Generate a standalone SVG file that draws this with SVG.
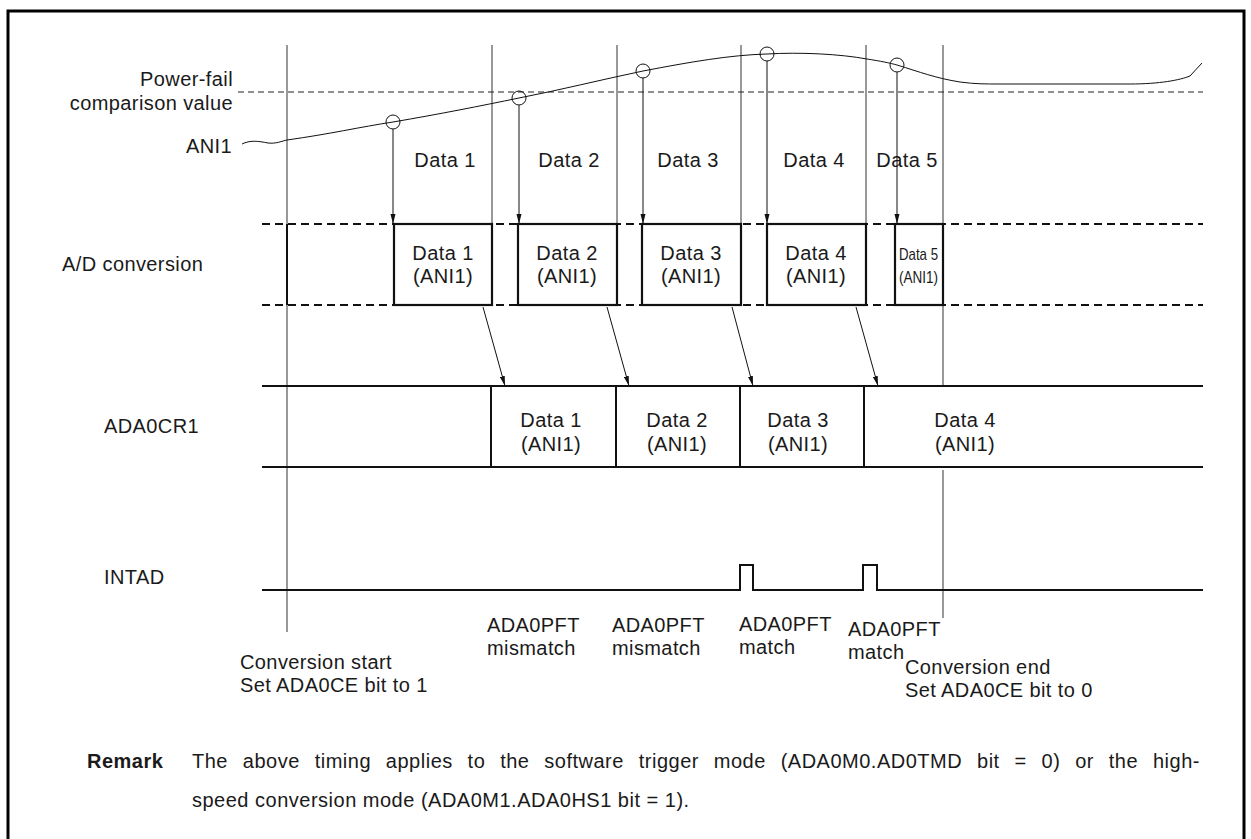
<svg xmlns="http://www.w3.org/2000/svg" width="1251" height="839" viewBox="0 0 1251 839">
<style>
.t{font-family:"Liberation Sans",Arial,sans-serif;font-size:20px;letter-spacing:0.4px;fill:#1a1a1a}
.r{letter-spacing:0.5px}
.c{text-anchor:middle}
.e{text-anchor:end}
.b{font-weight:bold}
.thin{stroke:#333;stroke-width:1;fill:none}
.ln{stroke:#111;stroke-width:1;fill:none}
.thick{stroke:#111;stroke-width:2;fill:none}
.dash{stroke:#111;stroke-width:2;stroke-dasharray:8 5;fill:none}
.pdash{stroke:#222;stroke-width:1.2;stroke-dasharray:6 4;fill:none}
.box{stroke:#111;stroke-width:2.2;fill:#fff}
</style>
<defs>
<marker id="ah" markerUnits="userSpaceOnUse" markerWidth="10" markerHeight="6" refX="10" refY="3" orient="auto">
<path d="M0,0.5 L10,3 L0,5.5 z" fill="#111"/>
</marker>
</defs>
<rect width="1251" height="839" fill="#fff"/>
<path d="M8,850 L8,11 L1244,11 L1244,850" stroke="#000" stroke-width="3" fill="none"/>

<g id="guides">
<line class="thin" x1="287" y1="45" x2="287" y2="632"/>
<line class="thin" x1="492" y1="45" x2="492" y2="224"/>
<line class="thin" x1="617" y1="45" x2="617" y2="224"/>
<line class="thin" x1="741" y1="45" x2="741" y2="224"/>
<line class="thin" x1="866" y1="45" x2="866" y2="224"/>
<line class="thin" x1="943" y1="45" x2="943" y2="386"/>
<line class="thin" x1="943" y1="470" x2="943" y2="618"/>
</g>

<g id="power-fail">
<line class="pdash" x1="238" y1="92" x2="1203" y2="92"/>
<text class="t e" x="233" y="86">Power-fail</text>
<text class="t e" x="233" y="110">comparison value</text>
</g>

<g id="ani1">
<text class="t e" x="232" y="153">ANI1</text>
<path class="ln" d="M242,144 C250,140 258,141 268,143 C276,144 282,141 287,140 C330,134 360,127 393,122 C440,114 480,106 519,98 C560,90 600,80 643,71 C690,62 730,55 767,54 C800,52 840,54 867,59 C880,61 890,63 897,65 C920,72 935,78 960,82 C975,84 985,84 1000,84 L1130,84 C1160,84 1180,80 1190,76 L1202,63"/>
<circle class="ln" cx="393" cy="122" r="7"/>
<circle class="ln" cx="519" cy="98" r="7"/>
<circle class="ln" cx="643" cy="71" r="7"/>
<circle class="ln" cx="767" cy="54" r="7"/>
<circle class="ln" cx="897" cy="65" r="7"/>
<text class="t c" x="445" y="167">Data 1</text>
<text class="t c" x="569" y="167">Data 2</text>
<text class="t c" x="688" y="167">Data 3</text>
<text class="t c" x="814" y="167">Data 4</text>
<text class="t c" x="907" y="167">Data 5</text>
</g>

<g id="ad-conversion">
<text class="t" x="62" y="271">A/D conversion</text>
<line class="dash" x1="262" y1="224" x2="1203" y2="224"/>
<line class="dash" x1="262" y1="305" x2="1203" y2="305"/>
<line class="thick" x1="287" y1="224" x2="287" y2="305"/>
<rect class="box" x="394" y="224" width="98" height="81"/>
<rect class="box" x="518" y="224" width="99" height="81"/>
<rect class="box" x="642" y="224" width="99" height="81"/>
<rect class="box" x="767" y="224" width="99" height="81"/>
<rect class="box" x="895" y="224" width="48" height="81"/>
<text class="t c" x="443" y="260">Data 1</text>
<text class="t c" x="443" y="283">(ANI1)</text>
<text class="t c" x="567" y="260">Data 2</text>
<text class="t c" x="567" y="283">(ANI1)</text>
<text class="t c" x="691" y="260">Data 3</text>
<text class="t c" x="691" y="283">(ANI1)</text>
<text class="t c" x="816" y="260">Data 4</text>
<text class="t c" x="816" y="283">(ANI1)</text>
<text class="t" x="899" y="260" style="font-size:17px;letter-spacing:0" textLength="39" lengthAdjust="spacingAndGlyphs">Data 5</text>
<text class="t" x="899" y="283" style="font-size:17px;letter-spacing:0" textLength="39" lengthAdjust="spacingAndGlyphs">(ANI1)</text>
</g>

<g id="ada0cr1">
<text class="t" x="104" y="433">ADA0CR1</text>
<line class="thick" x1="262" y1="386" x2="1203" y2="386"/>
<line class="thick" x1="262" y1="467" x2="1203" y2="467"/>
<line class="thick" x1="491" y1="386" x2="491" y2="467"/>
<line class="thick" x1="616" y1="386" x2="616" y2="467"/>
<line class="thick" x1="740" y1="386" x2="740" y2="467"/>
<line class="thick" x1="864" y1="386" x2="864" y2="467"/>
<text class="t c" x="551" y="427">Data 1</text>
<text class="t c" x="551" y="451">(ANI1)</text>
<text class="t c" x="677" y="427">Data 2</text>
<text class="t c" x="677" y="451">(ANI1)</text>
<text class="t c" x="798" y="427">Data 3</text>
<text class="t c" x="798" y="451">(ANI1)</text>
<text class="t c" x="965" y="427">Data 4</text>
<text class="t c" x="965" y="451">(ANI1)</text>
</g>

<g id="intad">
<text class="t" x="104" y="584">INTAD</text>
<path class="thick" d="M262,590 L740,590 L740,565 L753,565 L753,590 L863,590 L863,565 L877,565 L877,590 L1203,590"/>
</g>

<g id="connectors">
<line class="ln" x1="393" y1="129" x2="393" y2="224" marker-end="url(#ah)"/>
<line class="ln" x1="519" y1="105" x2="519" y2="224" marker-end="url(#ah)"/>
<line class="ln" x1="643" y1="78" x2="643" y2="224" marker-end="url(#ah)"/>
<line class="ln" x1="767" y1="61" x2="767" y2="224" marker-end="url(#ah)"/>
<line class="ln" x1="897" y1="72" x2="897" y2="224" marker-end="url(#ah)"/>
<line class="ln" x1="483" y1="307" x2="505" y2="386" marker-end="url(#ah)"/>
<line class="ln" x1="607" y1="307" x2="629" y2="386" marker-end="url(#ah)"/>
<line class="ln" x1="732" y1="307" x2="753" y2="386" marker-end="url(#ah)"/>
<line class="ln" x1="856" y1="307" x2="878" y2="386" marker-end="url(#ah)"/>
</g>

<g id="labels">
<text class="t" x="487" y="632">ADA0PFT</text>
<text class="t" x="487" y="655">mismatch</text>
<text class="t" x="612" y="632">ADA0PFT</text>
<text class="t" x="612" y="655">mismatch</text>
<text class="t" x="739" y="631">ADA0PFT</text>
<text class="t" x="739" y="654">match</text>
<text class="t" x="848" y="636">ADA0PFT</text>
<text class="t" x="848" y="659">match</text>
<text class="t" x="240" y="669">Conversion start</text>
<text class="t" x="240" y="692">Set ADA0CE bit to 1</text>
<text class="t" x="905" y="674">Conversion end</text>
<text class="t" x="905" y="697">Set ADA0CE bit to 0</text>
</g>

<g id="remark">
<text class="t r b" x="87" y="768">Remark</text>
<text class="t r" x="192" y="768" word-spacing="8.8">The above timing applies to the software trigger mode (ADA0M0.AD0TMD bit = 0) or the high-</text>
<text class="t r" x="192" y="807">speed conversion mode (ADA0M1.ADA0HS1 bit = 1).</text>
</g>
</svg>
